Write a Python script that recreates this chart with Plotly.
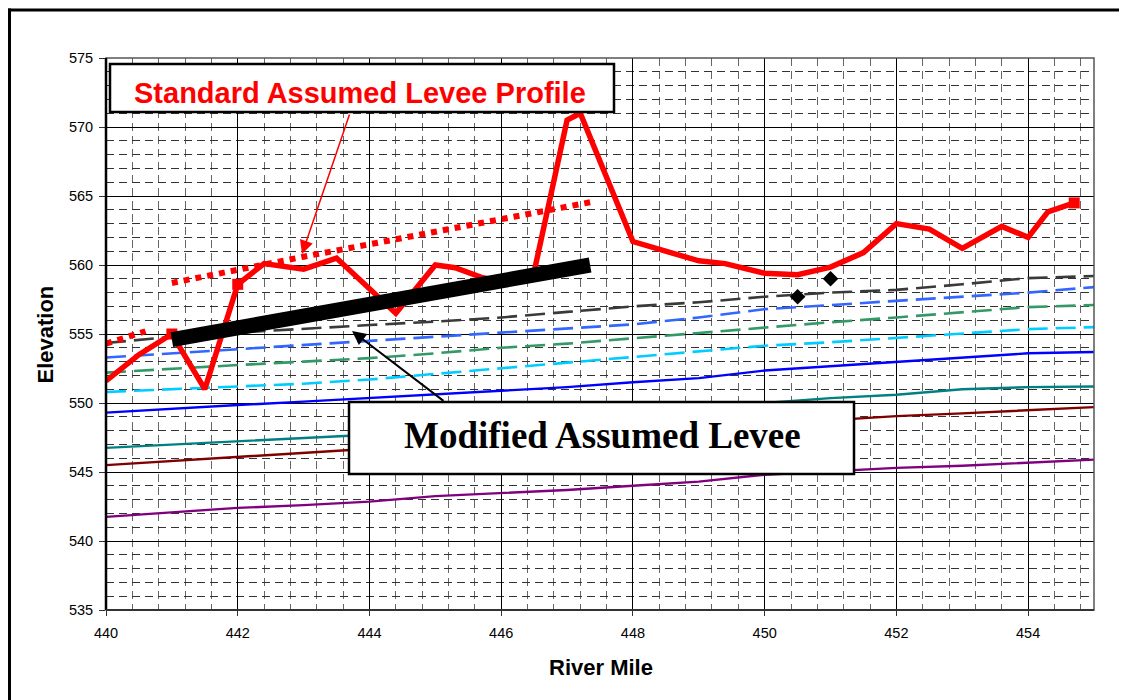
import plotly.graph_objects as go

# ---------------- data ----------------
miles = [440, 441, 442, 443, 444, 445, 446, 447, 448, 449, 450, 451, 452, 453, 454, 455]

gray_dash = [554.35, 554.8, 555.1, 555.4, 555.65, 555.9, 556.2, 556.6, 557.0, 557.3, 557.7, 558.0, 558.2, 558.6, 559.05, 559.2]
blue_dash = [553.3, 553.6, 553.9, 554.2, 554.5, 554.8, 555.1, 555.35, 555.7, 556.2, 556.8, 557.1, 557.4, 557.7, 558.0, 558.4]
green_dash = [552.2, 552.5, 552.75, 553.0, 553.25, 553.6, 554.0, 554.3, 554.7, 555.05, 555.5, 555.85, 556.2, 556.6, 556.95, 557.1]
cyan_dash = [550.8, 551.0, 551.15, 551.4, 551.7, 552.1, 552.5, 552.9, 553.3, 553.7, 554.15, 554.4, 554.7, 555.0, 555.35, 555.5]
blue_solid = [549.3, 549.6, 549.85, 550.1, 550.35, 550.65, 550.9, 551.15, 551.5, 551.8, 552.35, 552.65, 553.0, 553.25, 553.6, 553.7]
teal_solid = [546.75, 547.0, 547.2, 547.5, 547.7, 548.1, 548.5, 548.9, 549.3, 549.7, 550.0, 550.35, 550.6, 551.0, 551.15, 551.2]
darkred_solid = [545.5, 545.8, 546.1, 546.4, 546.7, 547.0, 547.3, 547.6, 547.9, 548.2, 548.5, 548.8, 549.05, 549.25, 549.5, 549.7]
purple_solid = [541.75, 542.1, 542.4, 542.6, 542.85, 543.25, 543.45, 543.7, 544.0, 544.3, 544.8, 545.05, 545.3, 545.45, 545.7, 545.9]

levee_x = [440, 440.5, 441, 441.5, 442, 442.4, 443, 443.5, 444.4, 445, 445.3, 445.7, 446.0, 446.5,
           447.0, 447.2, 448.0, 449.0, 449.4, 450.0, 450.5, 451.0, 451.5, 452.0, 452.5, 453.0,
           453.6, 454.0, 454.3, 454.7]
levee_y = [551.6, 553.5, 555.0, 551.0, 558.6, 560.1, 559.7, 560.5, 556.5, 560.0, 559.8, 559.1, 558.8, 559.5,
           570.5, 571.0, 561.7, 560.3, 560.1, 559.4, 559.3, 559.85, 560.9, 563.0, 562.6, 561.2,
           562.8, 562.0, 563.85, 564.5]
levee_marked = [0, 0, 1, 0, 1, 0, 0, 0, 0, 0, 0, 0, 0, 0, 0, 0, 0, 0, 0, 0, 0, 0, 0, 0, 0, 0, 0, 0, 0, 1]

std_a_x = [440, 440.6]
std_a_y = [554.3, 555.2]
std_b_x = [441, 442, 443, 444, 445, 446, 447, 447.35]
std_b_y = [558.7, 559.7, 560.6, 561.5, 562.4, 563.4, 564.2, 564.55]

mod_x = [441, 447.35]
mod_y = [554.6, 560.0]

pts_x = [450.5, 451.0]
pts_y = [557.7, 559.0]

x_ticks = [440, 442, 444, 446, 448, 450, 452, 454]
y_ticks = [535, 540, 545, 550, 555, 560, 565, 570, 575]

# ---------------- figure ----------------
fig = go.Figure()

dash_long = "20px,8px"
for ys, col in [(gray_dash, "#3a3a3a"), (blue_dash, "#3366FF"), (green_dash, "#339966"), (cyan_dash, "#00CCFF")]:
    fig.add_trace(go.Scatter(x=miles, y=ys, mode="lines",
                             line=dict(color=col, width=2.6, dash=dash_long), showlegend=False))
for ys, col in [(blue_solid, "#0000FF"), (teal_solid, "#008080"), (darkred_solid, "#800000"), (purple_solid, "#800080")]:
    fig.add_trace(go.Scatter(x=miles, y=ys, mode="lines",
                             line=dict(color=col, width=2.4), showlegend=False))

fig.add_trace(go.Scatter(x=levee_x, y=levee_y, mode="lines",
                         line=dict(color="#FF0000", width=5.5), showlegend=False))
fig.add_trace(go.Scatter(x=[x for x, m in zip(levee_x, levee_marked) if m],
                         y=[y for y, m in zip(levee_y, levee_marked) if m],
                         mode="markers",
                         marker=dict(symbol="square", color="#FF0000", size=11, line=dict(width=0)),
                         showlegend=False))
for xs, ys in [(std_a_x, std_a_y), (std_b_x, std_b_y)]:
    fig.add_trace(go.Scatter(x=xs, y=ys, mode="lines",
                             line=dict(color="#FF0000", width=6, dash="6px,6px"), showlegend=False))
fig.add_trace(go.Scatter(x=mod_x, y=mod_y, mode="lines",
                         line=dict(color="#000000", width=15), showlegend=False))
fig.add_trace(go.Scatter(x=pts_x, y=pts_y, mode="markers",
                         marker=dict(symbol="diamond", color="#000000", size=12), showlegend=False))

# page body has an 8px margin, so positions below are reference pixels minus OFF
OFF = 8
W, H = 1127 - OFF, 700 - OFF
L, T = 106 - OFF, 58 - OFF
PW, PH = 988, 552
R, B = W - L - PW, H - T - PH

def px_x(p):
    return 440 + (p - OFF - L) / PW * 15

def px_y(p):
    return 575 - (p - OFF - T) / PH * 40

def paper_x(p):
    return (p - OFF - L) / PW

def paper_y(p):
    return (T + PH - (p - OFF)) / PH

grid_dash = "8px,5px"
fig.update_xaxes(range=[440, 455], tickmode="array", tickvals=x_ticks,
                 ticks="outside", ticklen=5, tickcolor="#333", tickwidth=1,
                 showgrid=True, gridcolor="#000000", gridwidth=1,
                 minor=dict(tick0=440, dtick=0.4, showgrid=True, gridcolor="#666666",
                            griddash=grid_dash, gridwidth=1),
                 showline=False, zeroline=False,
                 tickfont=dict(family="Liberation Sans, Arial", size=14.5, color="#000"),
                 ticklabelstandoff=5)
fig.update_yaxes(range=[535, 575], tickmode="array", tickvals=y_ticks,
                 ticks="outside", ticklen=6, tickcolor="#333", tickwidth=1,
                 showgrid=True, gridcolor="#000000", gridwidth=1,
                 minor=dict(tick0=535, dtick=1, showgrid=True, gridcolor="#333333",
                            griddash=grid_dash, gridwidth=1),
                 showline=False, zeroline=False,
                 tickfont=dict(family="Liberation Sans, Arial", size=14.5, color="#000"),
                 ticklabelstandoff=3)

shapes = [
    # plot frame
    dict(type="rect", xref="x domain", yref="y domain", x0=0, x1=1, y0=0, y1=1,
         line=dict(color="#555555", width=1.5), layer="above"),
    dict(type="line", xref="x domain", yref="y domain", x0=0, x1=0, y0=0, y1=1,
         line=dict(color="#000000", width=2.5), layer="above"),
    dict(type="line", xref="x domain", yref="y domain", x0=0, x1=1, y0=0, y1=0,
         line=dict(color="#333333", width=2), layer="above"),
    # outer chart border: only its left and top edges fall inside the picture
    dict(type="line", xref="paper", yref="paper",
         x0=paper_x(OFF + 1.5), x1=paper_x(OFF + 1.5), y0=paper_y(705), y1=paper_y(8.5),
         line=dict(color="#000000", width=3), layer="above"),
    dict(type="line", xref="paper", yref="paper",
         x0=paper_x(OFF), x1=paper_x(1130), y0=paper_y(10), y1=paper_y(10),
         line=dict(color="#000000", width=3), layer="above"),
    # callout boxes
    dict(type="rect", xref="x", yref="y", x0=px_x(110), x1=px_x(614), y0=px_y(112), y1=px_y(64),
         fillcolor="#FFFFFF", line=dict(color="#000000", width=2.5), layer="above"),
    dict(type="rect", xref="x", yref="y", x0=px_x(349), x1=px_x(854), y0=px_y(474), y1=px_y(402),
         fillcolor="#FFFFFF", line=dict(color="#000000", width=2.5), layer="above"),
]

annotations = [
    dict(text="<b>Standard Assumed Levee Profile</b>", x=px_x(360), y=px_y(92.5), xref="x", yref="y",
         showarrow=False, font=dict(family="Liberation Sans, Arial", size=29, color="#FF0000"),
         xanchor="center", yanchor="middle"),
    dict(text="<b>Modified Assumed Levee</b>", x=px_x(602.5), y=px_y(435.5), xref="x", yref="y",
         showarrow=False, font=dict(family="Liberation Serif, Times New Roman", size=37, color="#000000"),
         xanchor="center", yanchor="middle"),
    dict(text="", x=px_x(302), y=px_y(254), xref="x", yref="y",
         ax=px_x(350), ay=px_y(113), axref="x", ayref="y",
         showarrow=True, arrowhead=2, arrowsize=1.8, arrowwidth=1.5, arrowcolor="#FF0000"),
    dict(text="", x=px_x(352), y=px_y(331), xref="x", yref="y",
         ax=px_x(445), ay=px_y(402), axref="x", ayref="y",
         showarrow=True, arrowhead=2, arrowsize=1.4, arrowwidth=2, arrowcolor="#000000"),
    dict(text="<b>River Mile</b>", x=paper_x(600.5), y=paper_y(667), xref="paper", yref="paper",
         showarrow=False, font=dict(family="Liberation Sans, Arial", size=22, color="#000"),
         xanchor="center", yanchor="middle"),
    dict(text="<b>Elevation</b>", x=paper_x(45), y=paper_y(334.5), xref="paper", yref="paper",
         showarrow=False, textangle=-90, font=dict(family="Liberation Sans, Arial", size=22, color="#000"),
         xanchor="center", yanchor="middle"),
]

fig.update_layout(width=W, height=H, margin=dict(l=L, r=R, t=T, b=B, autoexpand=False),
                  paper_bgcolor="#FFFFFF", plot_bgcolor="#FFFFFF",
                  shapes=shapes, annotations=annotations, showlegend=False)

fig.write_html("out.html")
